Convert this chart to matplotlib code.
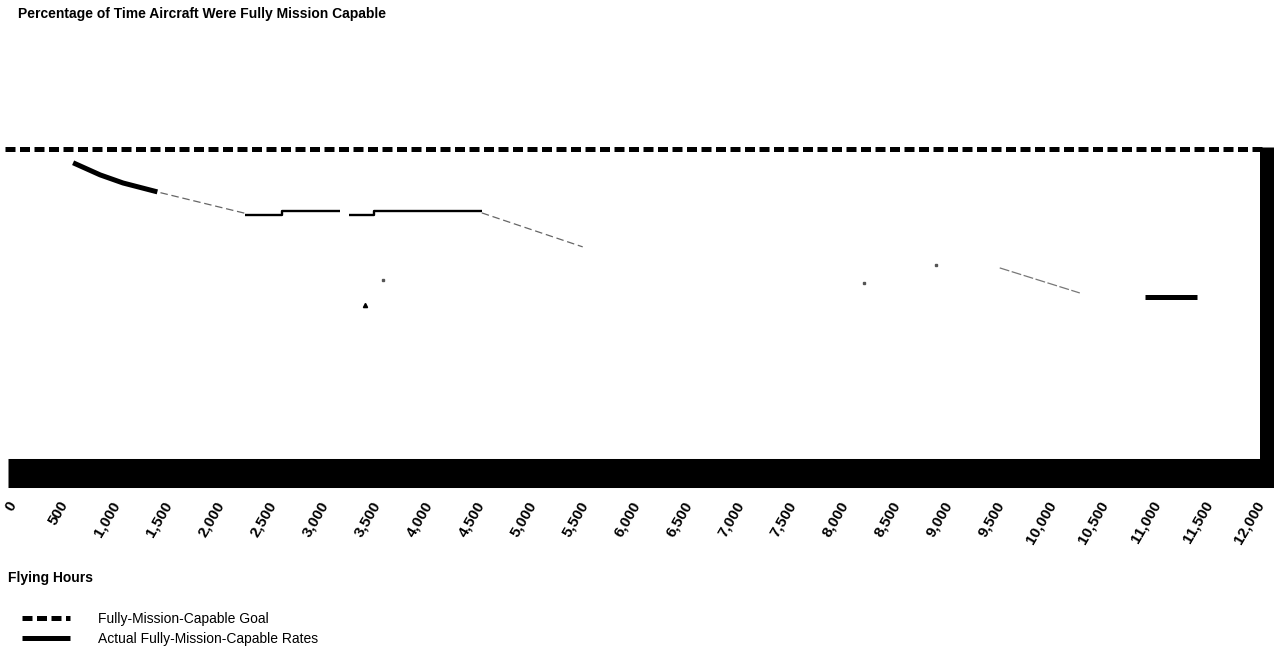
import matplotlib
matplotlib.use('Agg')
from matplotlib import pyplot as plt

# flying hours on the x axis, labels as printed
hour_ticks = [0, 500, 1000, 1500, 2000, 2500, 3000, 3500, 4000, 4500, 5000, 5500,
              6000, 6500, 7000, 7500, 8000, 8500, 9000, 9500, 10000, 10500, 11000, 11500, 12000]
hour_labels = ["0", "500", "1,000", "1,500", "2,000", "2,500", "3,000", "3,500", "4,000",
               "4,500", "5,000", "5,500", "6,000", "6,500", "7,000", "7,500", "8,000",
               "8,500", "9,000", "9,500", "10,000", "10,500", "11,000", "11,500", "12,000"]

# goal line (percent)
goal_hours = [-135, 12000]
goal_rate = [80, 80]

# actual rates
early_hours = [520, 780, 1000, 1330]
early_rate = [78.3, 76.8, 75.8, 74.7]

fade1_hours = [1360, 2190]
fade1_rate = [74.6, 72.0]

plateau_hours = [2170, 2530, 2530, 3090, float('nan'), 3170, 3410, 3410, 4450]
plateau_rate = [71.85, 71.85, 72.35, 72.35, float('nan'), 71.85, 71.85, 72.35, 72.35]

fade2_hours = [4450, 5420]
fade2_rate = [72.1, 67.9]

late_fade_hours = [9430, 10200]
late_fade_rate = [65.3, 62.2]

late_hours = [10830, 11330]
late_rate = [61.7, 61.7]

speck_hours = [3500, 8125, 8820]
speck_rate = [63.8, 63.4, 65.7]

fig = plt.figure(figsize=(12.74, 6.57), dpi=100)
ax = fig.add_axes([5 / 1274, (657 - 472.5) / 657, (1267 - 5) / 1274, (472.5 - 147) / 657])

goal, = ax.plot(goal_hours, goal_rate, color='black', lw=3.6, dashes=(2.0, 0.9),
                solid_capstyle='butt', dash_capstyle='butt')
actual, = ax.plot(early_hours, early_rate, color='black', lw=3.6, solid_capstyle='butt')
ax.plot(fade1_hours, fade1_rate, color='#666666', lw=0.9, ls=(0, (6, 3)))
ax.plot(plateau_hours, plateau_rate, color='black', lw=1.7, solid_capstyle='butt')
ax.plot(fade2_hours, fade2_rate, color='#666666', lw=0.9, ls=(0, (6, 3)))
ax.plot(late_fade_hours, late_fade_rate, color='#777777', lw=0.9, ls=(0, (8, 2)))
ax.plot(late_hours, late_rate, color='black', lw=3.6, solid_capstyle='butt')
ax.plot(speck_hours, speck_rate, ls='none', marker='s', ms=1.5, color='#555555')
ax.plot([3330], [60.7], ls='none', marker='^', ms=3, color='black')

ax.set_xlim(-135, 12000)
ax.set_ylim(40, 80.25)

for side in ['top', 'left']:
    ax.spines[side].set_visible(False)
ax.spines['bottom'].set_linewidth(20.9)
ax.spines['bottom'].set_capstyle('butt')
ax.spines['bottom'].set_bounds(-105, 12070)
ax.spines['right'].set_linewidth(10.8)
ax.spines['right'].set_capstyle('butt')
ax.set_yticks([])
ax.set_xticks(hour_ticks)
ax.set_xticklabels(hour_labels, rotation=60, ha='right', va='top',
                   fontsize=11, fontweight='bold', family='Liberation Sans')
ax.tick_params(axis='x', length=0, pad=19)

fig.text(18 / 1274, 1 - 14 / 657, "Percentage of Time Aircraft Were Fully Mission Capable",
         fontsize=10, fontweight='bold', family='Liberation Sans', va='center')
fig.text(8 / 1274, 1 - 578 / 657, "Flying Hours", fontsize=10, fontweight='bold',
         family='Liberation Sans', va='center')

fig.legend([goal, actual], ["Fully-Mission-Capable Goal", "Actual Fully-Mission-Capable Rates"],
           loc='upper left', bbox_to_anchor=(22 / 1274, 1 - 612 / 657), frameon=False,
           borderpad=0, borderaxespad=0, handlelength=3.45, handletextpad=2.0,
           labelspacing=0.45, prop={'family': 'Liberation Sans', 'size': 10})

fig.savefig('out.png', dpi=100)
